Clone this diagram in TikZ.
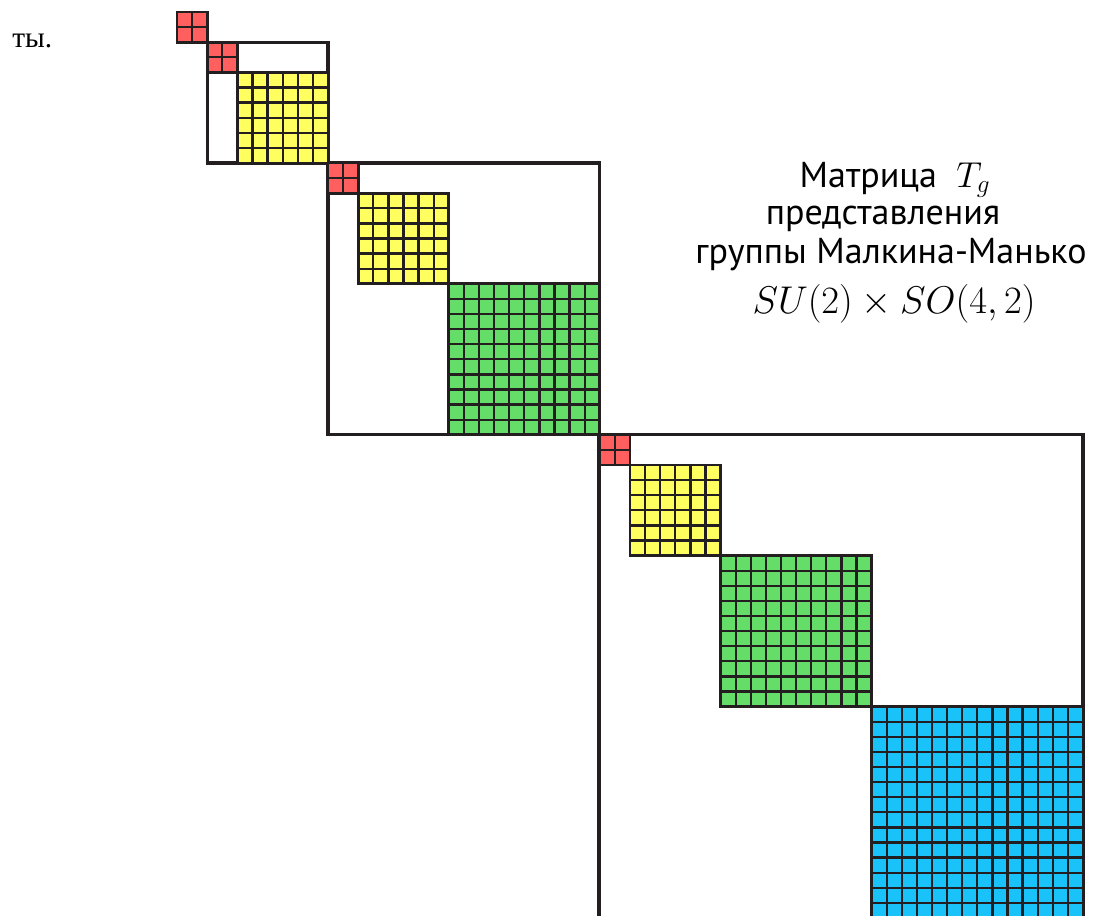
\documentclass[tikz,border=0pt]{standalone}
\usepackage{fix-cm}
\usepackage{fontspec}
\setsansfont{PT Sans}
\newfontfamily\serifcyr{Liberation Serif}
\definecolor{cred}{HTML}{FF5F5F}
\definecolor{cyel}{HTML}{FFFF5F}
\definecolor{cgrn}{HTML}{64DE68}
\definecolor{cblu}{HTML}{1AC2FA}
\definecolor{cline}{HTML}{231F20}
\tikzset{
  gline/.style={draw=cline,line width=1.75pt},
  bline/.style={draw=cline,line width=2.2pt},
  fline/.style={draw=cline,line width=2.3pt},
  ttl/.style={font=\sffamily\fontsize{27}{30}\selectfont,inner sep=0pt,anchor=base},
}
\newcommand\cellblock[3]{% start, size, colour
  \fill[#3] (#1,#1) rectangle ++(#2,#2);
  \foreach \k in {1,...,\numexpr#2-1\relax}{
    \draw[gline] (#1+\k,#1) -- ++(0,#2);
    \draw[gline] (#1,#1+\k) -- ++(#2,0);
  }
  \draw[bline] (#1,#1) rectangle ++(#2,#2);
}
\begin{document}
\begin{tikzpicture}[x=0.75pt,y=-0.75pt]
\useasboundingbox (0,0) rectangle (1095,916);
\clip (0,0) rectangle (1095,916);
\fill[white] (0,0) rectangle (1095,916);
\node[anchor=base west,inner sep=0pt,font=\serifcyr\fontsize{22}{26}\selectfont] (frag) at (12,47.3) {ты.};
\begin{scope}[shift={(177,12)},x=11.325pt,y=-11.325pt]
  % frames
  \draw[fline] (2,2) rectangle (10,10);
  \draw[fline] (10,10) rectangle (28,28);
  \draw[fline] (28,28) rectangle (60,60);
  \draw[fline] (27.93,28) -- (27.93,60);
  % blocks
  \cellblock{0}{2}{cred}
  \cellblock{2}{2}{cred}
  \cellblock{4}{6}{cyel}
  \cellblock{10}{2}{cred}
  \cellblock{12}{6}{cyel}
  \cellblock{18}{10}{cgrn}
  \cellblock{28}{2}{cred}
  \cellblock{30}{6}{cyel}
  \cellblock{36}{10}{cgrn}
  \cellblock{46}{14}{cblu}
\end{scope}
\node[ttl] (t1) at (895,187.3) {Матрица~~$T_g$};
\node[ttl] (t2) at (883,224) {представления};
\node[ttl] (t3) at (891,263.3) {группы Малкина-Манько};
\node[ttl,font=\fontsize{29}{32}\selectfont] (t4) at (894,313.3) {$SU(2)\times SO(4,2)$};
\end{tikzpicture}
\end{document}
